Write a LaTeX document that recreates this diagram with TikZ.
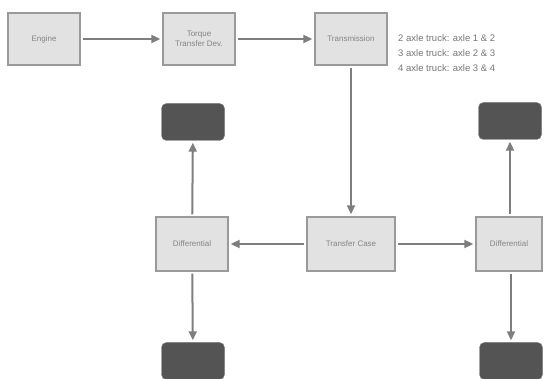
\documentclass[tikz,border=0pt]{standalone}
\usepackage{fontspec}
\setmainfont{Liberation Sans}
\usetikzlibrary{arrows.meta,shadows}
\definecolor{boxfill}{HTML}{E2E2E2}
\definecolor{boxline}{HTML}{9A9A9A}
\definecolor{txtgray}{HTML}{858585}
\definecolor{notegray}{HTML}{767676}
\definecolor{arrgray}{HTML}{7E7E7E}
\definecolor{tire}{HTML}{545454}
\tikzset{
  compbox/.style={draw=boxline, fill=boxfill, line width=1.4pt, minimum width=#1, minimum height=52pt,
    inner sep=1pt, text=txtgray, font=\fontsize{8}{9.5}\selectfont, align=center,
    drop shadow={shadow xshift=1pt, shadow yshift=-1pt, fill=gray!60, opacity=0.6}},
  compbox/.default=72pt,
  tirebox/.style={fill=tire, draw=tire!80, rounded corners=5pt, minimum width=63pt, minimum height=37pt},
  flow/.style={draw=arrgray, line width=2pt, -{Triangle[length=9pt,width=8pt]}, shorten >=2pt, shorten <=2pt},
  note/.style={text=notegray, font=\fontsize{9.5}{15}\selectfont, align=left, inner sep=0pt}
}
\begin{document}
\begin{tikzpicture}[x=1pt,y=-1pt]
\useasboundingbox (0,0) rectangle (544,379);
\node[compbox] (engine) at (44,39) {Engine};
\node[compbox] (torque) at (199,39) {Torque\\Transfer Dev.};
\node[compbox] (trans) at (351,39) {Transmission};
\node[compbox=88pt, minimum height=54pt] (tcase) at (351,244) {Transfer Case};
\node[compbox, minimum height=54pt] (dleft) at (192,244) {Differential};
\node[compbox=66pt, minimum height=54pt] (dright) at (509,244) {Differential};
\node[tirebox] (tlt) at (193,122) {};
\node[tirebox] (trt) at (510,121) {};
\node[tirebox] (tlb) at (193,361) {};
\node[tirebox] (trb) at (511,361) {};
\node[note, anchor=north west] (axles) at (398,34) {2 axle truck: axle 1 \& 2\\3 axle truck: axle 2 \& 3\\4 axle truck: axle 3 \& 4};
\draw[flow] (engine) -- (torque);
\draw[flow] (torque) -- (trans);
\draw[flow] (trans) -- (tcase);
\draw[flow] (tcase) -- (dleft);
\draw[flow] (tcase) -- (dright);
\draw[flow] (dleft) -- (tlt);
\draw[flow] (dleft) -- (tlb);
\draw[flow] (dright.north -| trt) -- (trt);
\draw[flow] (dright.south -| trb) -- (trb);
\end{tikzpicture}
\end{document}
